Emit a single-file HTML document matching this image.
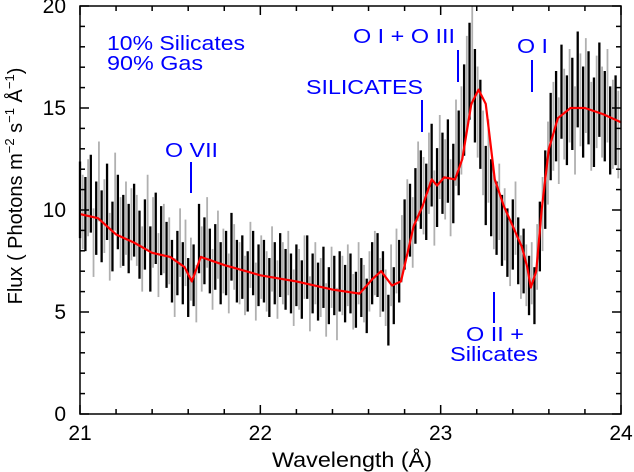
<!DOCTYPE html>
<html><head><meta charset="utf-8"><style>
html,body{margin:0;padding:0;background:#fff;}
svg{display:block;font-family:"Liberation Sans",sans-serif;}
</style></head><body>
<svg id="chart" width="634" height="472">
<g id="plot"></g>
<g id="axes"></g>
<g fill="#0000ff" font-size="20">
<text x="107" y="50" textLength="138" lengthAdjust="spacingAndGlyphs">10% Silicates</text>
<text x="107" y="70" textLength="96" lengthAdjust="spacingAndGlyphs">90% Gas</text>
<text x="165" y="157" textLength="53" lengthAdjust="spacingAndGlyphs">O VII</text>
<rect x="190" y="162" width="2" height="31"/>
<text x="306" y="94" textLength="117" lengthAdjust="spacingAndGlyphs">SILICATES</text>
<rect x="421" y="100" width="2" height="32"/>
<text x="353" y="43" textLength="102" lengthAdjust="spacingAndGlyphs">O I + O III</text>
<rect x="457" y="50" width="2" height="32"/>
<text x="517" y="53" textLength="31" lengthAdjust="spacingAndGlyphs">O I</text>
<rect x="531" y="60" width="2" height="32"/>
<rect x="493" y="292" width="2" height="31"/>
<text x="466" y="341" textLength="58" lengthAdjust="spacingAndGlyphs">O II +</text>
<text x="450" y="361" textLength="88" lengthAdjust="spacingAndGlyphs">Silicates</text>
</g>
</svg>
<script>
const blackStart = 21.0, blackStep = 0.03;
const blackFlux = [10.5,9.8,10.8,9.6,9.2,10.4,8.7,9.9,9.0,8.6,
9.5,8.3,8.8,7.6,9.1,8.5,7.8,7.0,7.4,6.9,
6.2,6.8,8.6,8.0,7.5,7.7,6.9,7.4,8.2,7.0,
7.2,6.5,7.4,6.8,7.0,6.2,6.9,7.3,6.6,6.4,
6.8,6.1,7.2,6.4,6.0,6.7,5.8,6.3,6.5,5.9,
6.4,5.6,6.2,5.3,6.9,7.3,6.5,4.6,5.8,7.0,
8.8,9.5,10.2,11.0,10.4,12.2,11.1,11.8,12.4,11.3,
12.8,14.9,16.8,15.6,14.2,11.2,10.6,9.6,9.0,8.4,
8.8,8.0,7.5,6.3,5.8,8.7,11.0,13.6,14.6,15.8,
14.4,15.2,16.4,14.8,15.5,14.3,15.9,14.6,13.9,14.4];
const grayStart = 21.015, grayStep = 0.03;
const grayFlux = [9.9,10.6,8.4,11.4,9.7,8.2,10.9,8.9,9.6,9.3,
9.0,7.6,9.9,8.9,7.3,8.6,8.0,6.2,8.4,7.9,
7.1,5.9,7.6,8.9,6.6,8.3,7.5,6.4,7.7,6.9,
6.3,7.8,6.0,7.2,6.5,7.6,6.1,6.9,7.4,5.7,
6.6,7.2,5.4,6.9,6.2,5.1,6.7,4.9,6.3,6.8,
5.5,6.9,5.9,6.5,7.4,6.2,5.7,6.8,7.5,8.1,
9.7,8.9,11.4,10.7,11.8,10.1,12.6,11.5,10.6,13.3,
13.9,16.2,17.6,14.8,12.8,12.4,9.9,10.4,9.3,7.9,
9.6,7.2,6.8,6.9,7.7,9.8,12.3,14.1,13.4,14.7,
15.6,13.9,15.4,16.1,14.1,15.3,14.8,15.6,14.2,13.7];
const modelWave = [21,21.1,21.2,21.3,21.4,21.5,21.58,21.62,21.67,21.8,22,22.2,22.4,22.55,22.62,22.67,22.73,22.78,22.85,22.9,22.95,22.98,23.02,23.08,23.12,23.17,23.21,23.25,23.3,23.35,23.4,23.45,23.48,23.5,23.53,23.56,23.6,23.65,23.72,23.8,23.9,24];
const modelFlux = [9.8,9.6,8.8,8.4,7.9,7.7,7.2,6.5,7.7,7.3,6.8,6.5,6.1,5.9,6.6,7.0,6.3,6.5,9.2,10.2,11.5,11.2,11.6,11.5,12.5,15.2,15.9,15.2,11.5,10.2,9.2,8.2,7.2,6.2,7.0,10.0,13.0,14.5,15.0,15.0,14.7,14.3];
const xTicks = [21,22,23,24];
const yTicks = [0,5,10,15,20];

const X0=80,X1=621,Y0=414,Y1=6;
const xs = w => X0 + (w-21)/3*(X1-X0);
const ys = f => Y0 - f/20*(Y0-Y1);
const NS="http://www.w3.org/2000/svg";
const plot=document.getElementById('plot'), axes=document.getElementById('axes');
function mk(tag,attrs,parent){const e=document.createElementNS(NS,tag);for(const k in attrs)e.setAttribute(k,attrs[k]);parent.appendChild(e);return e;}
const err = f => 0.58*Math.sqrt(f);
const clip = v => Math.max(Y1, Math.min(Y0, v));

grayFlux.forEach((f,i)=>{
  const x=xs(grayStart+i*grayStep);
  const e=mk('line',{x1:x,x2:x,y1:clip(ys(f+err(f))),y2:clip(ys(f-err(f))),stroke:'#b0b0b0','stroke-width':1.8},plot);
  
  
});
blackFlux.forEach((f,i)=>{
  const x=xs(blackStart+i*blackStep);
  const e=mk('line',{x1:x,x2:x,y1:clip(ys(f+err(f))),y2:clip(ys(f-err(f))),stroke:'#000','stroke-width':2.3},plot);
  
  
});
const pts=modelWave.map((w,i)=>xs(w)+','+ys(modelFlux[i])).join(' ');
const m=mk('polyline',{points:pts,fill:'none',stroke:'#ff0000','stroke-width':2.2,'stroke-linejoin':'round'},plot);



const fr=mk('rect',{x:X0,y:Y1,width:X1-X0,height:Y0-Y1,fill:'none',stroke:'#000','stroke-width':1.5},axes);


for(let k=0;k<=15;k++){
  const w=21+k*0.2, x=xs(w), major=Math.abs(w-Math.round(w))<1e-6, L=major?9:5;
  mk('line',{x1:x,x2:x,y1:Y0,y2:Y0-L,stroke:'#000','stroke-width':1.5},axes);
  mk('line',{x1:x,x2:x,y1:Y1,y2:Y1+L,stroke:'#000','stroke-width':1.5},axes);
}
for(let f=0;f<=20;f++){
  const y=ys(f), L=f%5===0?9:5;
  mk('line',{x1:X0,x2:X0+L,y1:y,y2:y,stroke:'#000','stroke-width':1.5},axes);
  mk('line',{x1:X1,x2:X1-L,y1:y,y2:y,stroke:'#000','stroke-width':1.5},axes);
}
xTicks.forEach(t=>{
  const e=mk('text',{x:xs(t),y:440,'text-anchor':'middle','font-size':21},axes);
  e.textContent=t;
  
  
});
yTicks.forEach(t=>{
  const e=mk('text',{x:66,y:ys(t)+7,'text-anchor':'end','font-size':21},axes);
  e.textContent=t;
  
  
});
const xl=mk('text',{x:272,y:467,'font-size':21,textLength:160,lengthAdjust:'spacingAndGlyphs'},axes);
xl.textContent='Wavelength (Å)';


const yl=mk('text',{x:0,y:0,'text-anchor':'middle','font-size':20,transform:'translate(22,186) rotate(-90)'},axes);
yl.innerHTML='Flux ( Photons m<tspan font-size="13" dy="-8">−2</tspan><tspan dy="8"> s</tspan><tspan font-size="13" dy="-8">−1</tspan><tspan dy="8"> Å</tspan><tspan font-size="13" dy="-8">−1</tspan><tspan dy="8">)</tspan>';


</script>
</body></html>
